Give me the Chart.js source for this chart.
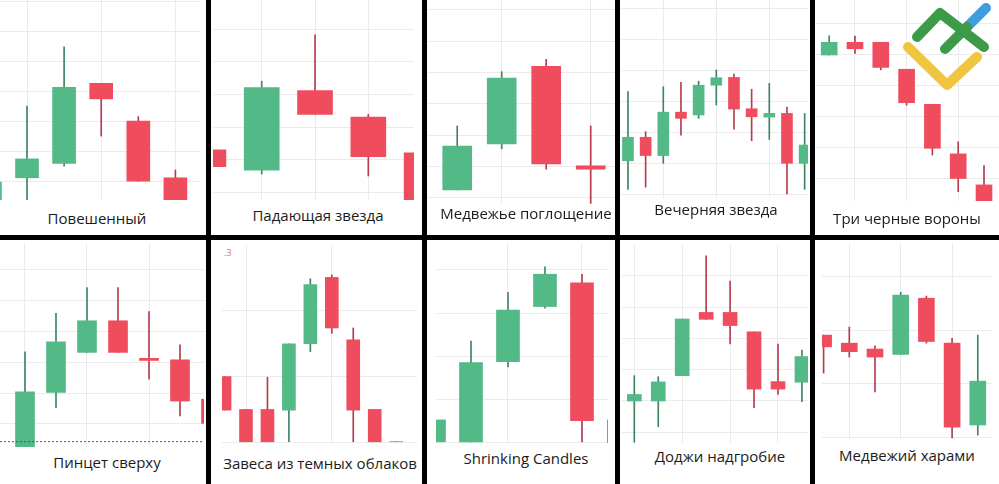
<!DOCTYPE html>
<html>
<head>
<meta charset="utf-8">
<script src="https://cdn.jsdelivr.net/npm/chart.js@4.4.0/dist/chart.umd.min.js"></script>
<style>
  html, body { margin: 0; padding: 0; background: #fff; }
  #board { position: relative; width: 999px; height: 484px; overflow: hidden; background: #fff; }
  #board canvas { position: absolute; }
  .sep { position: absolute; background: #000; }
  .title { position: absolute; font-family: 'Open Sans', sans-serif; font-size: 15px; color: #1b1b1b;
           white-space: nowrap; line-height: 1; transform: translate(-50%, -50%); }
  .tick { position: absolute; font-family: 'Open Sans', sans-serif; font-size: 9px; color: #d46a72; }
</style>
</head>
<body>
<div id="board"></div>
<script>
const titles = ['Повешенный', 'Падающая звезда', 'Медвежье поглощение', 'Вечерняя звезда', 'Три черные вороны',
  'Пинцет сверху', 'Завеса из темных облаков', 'Shrinking Candles', 'Доджи надгробие', 'Медвежий харами'];

// candles: [open, high, low, close]
const hanging = [[-0.9, 0, -0.9, 0], [0.13, 2.52, -0.8, 0.76], [0.61, 4.5, 0.52, 3.15],
  [3.28, 3.28, 1.52, 2.76], [2.02, 2.17, 0, 0], [0.13, 0.39, -0.8, -0.7]];
const shootingStar = [[1.3, 1.3, 0.79, 0.79], [0.68, 3.41, 0.56, 3.21], [3.12, 4.83, 2.39, 2.39],
  [2.31, 2.39, 0.5, 1.09], [1.21, 1.21, -0.3, -0.3]];
const engulfing = [[0.25, 2.29, 0.25, 1.65], [1.72, 4.03, 1.56, 3.82], [4.2, 4.42, 0.91, 1.08],
  [1.02, 2.29, -0.18, 0.91]];
const eveningStar = [[1.08, 3.31, 0.16, 1.84], [1.84, 2.02, 0.23, 1.25], [1.25, 3.47, 1.0, 2.65],
  [2.65, 3.61, 1.91, 2.45], [2.56, 3.65, 2.45, 3.52], [3.52, 4.01, 2.88, 3.76], [3.77, 3.88, 2.1, 2.75],
  [2.76, 3.39, 1.73, 2.5], [2.49, 3.58, 1.77, 2.61], [2.61, 2.81, 0, 1.0], [1.0, 2.61, 0.16, 1.59]];
const threeCrows = [[4.0, 4.62, 4.0, 4.41], [4.41, 4.61, 4.05, 4.2], [4.41, 4.41, 3.52, 3.6],
  [3.54, 3.54, 2.38, 2.46], [2.41, 2.41, 0.77, 0.99], [0.81, 1.2, -0.41, 0], [-0.19, 0.43, -0.7, -0.7]];
const tweezerTop = [[-0.75, 2.33, -0.75, 1.04], [1.02, 3.57, 0.53, 2.65], [2.31, 4.4, 2.31, 3.33],
  [3.33, 4.4, 2.31, 2.31], [2.12, 3.63, 1.45, 2.05], [2.07, 2.55, 0.26, 0.74], [0.8, 0.8, 0.02, 0.02]];
const darkCloud = [[1.0, 1.0, 0.49, 0.49], [0.5, 0.5, 0, 0], [0.5, 0.99, 0, 0], [0.49, 1.5, 0, 1.5],
  [1.5, 2.49, 1.38, 2.4], [2.51, 2.55, 1.66, 1.74], [1.56, 1.74, 0, 0.49], [0.5, 0.5, 0, 0], [0.012, 0.012, 0, 0]];
const shrinking = [[0, 0.52, 0, 0.52], [0, 2.35, 0, 1.85], [1.87, 3.48, 1.75, 3.07], [3.15, 4.07, 3.11, 3.9],
  [3.7, 3.9, 0, 0.5], [0.52, 0.52, -0.1, -0.1]];
const gravestone = [[1.0, 1.81, -0.32, 1.21], [1.0, 1.78, 0.18, 1.61], [1.81, 3.62, 1.81, 3.62],
  [3.83, 5.64, 3.61, 3.61], [3.83, 4.83, 2.82, 3.41], [3.21, 3.21, 0.79, 1.38], [1.62, 2.82, 1.21, 1.38],
  [1.6, 2.63, 0.98, 2.42]];
const harami = [[1.91, 1.91, 1.2, 1.69], [1.76, 2.06, 1.5, 1.6], [1.65, 1.71, 0.85, 1.5], [1.55, 2.71, 1.55, 2.66],
  [2.6, 2.64, 1.76, 1.79], [1.76, 1.85, -0.01, 0.19], [0.23, 1.91, 0.04, 1.05]];

const series = [hanging, shootingStar, engulfing, eveningStar, threeCrows,
  tweezerTop, darkCloud, shrinking, gravestone, harami];
const firstIndex = [1, 1, 1, 1, 1, 0, -1, 0, 0, -1];
const tweezerLevel = -0.57;

const UP = '#53b987', DOWN = '#ef4d5e', FLAT = '#a0a0a0';
const UP_WICK = '#3f8466', DOWN_WICK = '#b43d4d';
const GRID = '#ebebeb';

// placement of each plot area and its title on the 999x484 board
const frames = [
  { left: 0,   top: 0,   w: 200, h: 200, x: [1.272, 6.663, 2], y: [-0.61, 6.057],  body: 23, tx: 97,  ty: 218 },
  { left: 213, top: 0,   w: 201, h: 200, x: [1.086, 4.857, 1], y: [-0.236, 5.899], body: 35, tx: 318, ty: 215 },
  { left: 427, top: 0,   w: 188, h: 204, x: [0.321, 4.546, 2], y: [-0.201, 6.316], body: 29, tx: 526, ty: 213 },
  { left: 621, top: 0,   w: 187, h: 198, x: [0.606, 11.19, 3], y: [-0.119, 6.268], body: 11, tx: 716, ty: 209 },
  { left: 815, top: 0,   w: 184, h: 201, x: [0.45, 7.581, 2],  y: [-0.71, 5.774],  body: 16, tx: 907, ty: 218 },
  { left: 0,   top: 243, w: 204, h: 204, x: [-0.806, 5.774, 2], y: [-0.742, 5.839], body: 19, tx: 107, ty: 462 },
  { left: 222, top: 246, w: 195, h: 197, x: [-1.119, 7.972, 4], y: [-0.011, 2.988], body: 13, tx: 320, ty: 463 },
  { left: 436, top: 243, w: 172, h: 200, x: [0.054, 4.703, 2], y: [-0.016, 4.624], body: 23, tx: 526, ty: 458 },
  { left: 622, top: 245, w: 186, h: 198, x: [-0.514, 7.253, 2], y: [-0.342, 5.984], body: 14, tx: 720, ty: 456 },
  { left: 822, top: 243, w: 170, h: 196, x: [-1.062, 5.553, 2], y: [-0.032, 3.632], body: 16, tx: 907, ty: 455 }
];

const board = document.getElementById('board');

function gridTicks(min, max, step) {
  const out = [];
  for (let v = Math.ceil(min / step) * step; v <= max + 1e-9; v += step) out.push({ value: v });
  return out;
}

function bodyColor(k) {
  if (Math.abs(k[3] - k[0]) < 0.02) return FLAT;
  return k[3] > k[0] ? UP : DOWN;
}

function drawPanel(n) {
  const f = frames[n], candles = series[n], first = firstIndex[n];
  const canvas = document.createElement('canvas');
  canvas.width = f.w;
  canvas.height = f.h;
  canvas.style.left = f.left + 'px';
  canvas.style.top = f.top + 'px';
  board.appendChild(canvas);

  const datasets = [
    {
      data: candles.map((k, i) => ({ x: first + i, y: [k[0], k[3]] })),
      backgroundColor: candles.map(bodyColor),
      barThickness: f.body,
      grouped: false,
      order: 0
    },
    {
      data: candles.map((k, i) => ({ x: first + i, y: [k[2], k[1]] })),
      backgroundColor: candles.map(k => k[3] >= k[0] ? UP_WICK : DOWN_WICK),
      barThickness: 1,
      grouped: false,
      order: 1
    }
  ];
  if (n === 5) {
    datasets.push({
      type: 'line',
      data: [{ x: f.x[0], y: tweezerLevel }, { x: f.x[1], y: tweezerLevel }],
      borderColor: '#a8323e',
      borderWidth: 1,
      borderDash: [2, 2],
      pointRadius: 0,
      order: -1
    });
  }

  new Chart(canvas, {
    type: 'bar',
    data: { datasets },
    options: {
      responsive: false,
      animation: false,
      events: [],
      devicePixelRatio: 1,
      layout: { padding: 0 },
      plugins: { legend: { display: false }, tooltip: { enabled: false } },
      scales: {
        x: {
          type: 'linear', min: f.x[0], max: f.x[1], offset: false,
          grid: { offset: false, color: GRID, drawTicks: false },
          border: { display: false },
          ticks: { display: false },
          afterBuildTicks: s => { s.ticks = gridTicks(f.x[0], f.x[1], f.x[2]); }
        },
        y: {
          type: 'linear', min: f.y[0], max: f.y[1],
          grid: { color: GRID, drawTicks: false },
          border: { display: false },
          ticks: { display: false },
          afterBuildTicks: s => { s.ticks = gridTicks(f.y[0], f.y[1], 1); }
        }
      }
    }
  });

  const t = document.createElement('div');
  t.className = 'title';
  t.textContent = titles[n];
  t.style.left = f.tx + 'px';
  t.style.top = f.ty + 'px';
  board.appendChild(t);
}

for (let n = 0; n < frames.length; n++) drawPanel(n);

// stray price label in the dark cloud panel
const tick = document.createElement('div');
tick.className = 'tick';
tick.textContent = '.3';
tick.style.left = '224px';
tick.style.top = '246px';
board.appendChild(tick);

// black frame lines
[[0, 235, 999, 5], [206, 0, 5, 484], [422, 0, 5, 484], [615, 0, 5, 484], [810, 0, 5, 484]].forEach(r => {
  const d = document.createElement('div');
  d.className = 'sep';
  d.style.left = r[0] + 'px';
  d.style.top = r[1] + 'px';
  d.style.width = r[2] + 'px';
  d.style.height = r[3] + 'px';
  board.appendChild(d);
});

// logo
board.insertAdjacentHTML('beforeend',
  '<svg style="position:absolute;left:895px;top:0" width="104" height="100" viewBox="0 0 104 100">' +
  '<g fill="none" stroke-width="10" stroke-linecap="round" stroke-linejoin="round">' +
  '<polyline points="13,47 52,85 82,57" stroke="#f0c53f"/>' +
  '<line x1="72" y1="27" x2="91" y2="8" stroke="#3d9de0"/>' +
  '<polyline points="22,37 45,13 89,47" stroke="#3c9a49"/>' +
  '<line x1="50" y1="49" x2="72" y2="27" stroke="#3c9a49"/>' +
  '</g></svg>');
</script>
</body>
</html>
